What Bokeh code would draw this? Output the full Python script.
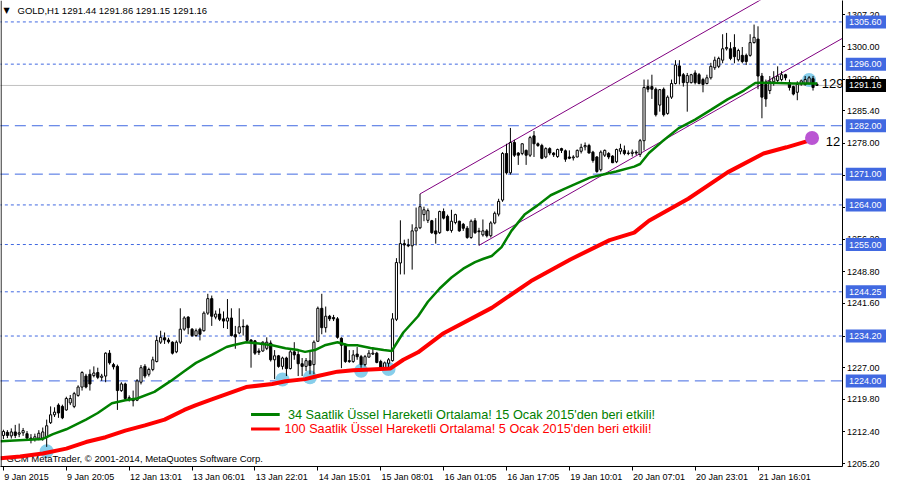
from bokeh.plotting import figure
from bokeh.layouts import row
from bokeh.models import (Range1d, LinearAxis, FixedTicker, CustomJSTickFormatter,
                          Label, Span, ColumnDataSource)
from bokeh.core.properties import value
from bokeh.embed import file_html
from bokeh.resources import INLINE

# ---------------- data (GOLD, H1) ----------------
opens = [
    1211.6, 1212.3, 1211.5, 1212.4, 1211.9, 1212.2, 1212.0, 1211.0, 1210.7, 1211.0,
    1211.0, 1211.2, 1214.5, 1216.3, 1218.5, 1218.2, 1217.4, 1219.0, 1218.2, 1220.7,
    1222.6, 1225.1, 1225.5, 1225.2, 1225.9, 1224.8, 1225.1, 1230.3, 1227.7, 1227.3,
    1221.8, 1223.3, 1220.0, 1220.0, 1219.6, 1223.7, 1227.3, 1225.5, 1226.6, 1228.4,
    1232.8, 1233.8, 1233.3, 1232.8, 1230.6, 1232.8, 1235.75, 1238.5, 1235.75, 1234.3,
    1235.75, 1235.4, 1239.4, 1242.7, 1238.5, 1239.2, 1238.1, 1237.6, 1238.3, 1234.5,
    1234.9, 1236.4, 1236.5, 1233.3, 1233.1, 1230.8, 1230.8, 1231.4, 1232.6, 1228.8,
    1229.7, 1227.3, 1229.2, 1226.8, 1230.6, 1230.0, 1227.9, 1227.3, 1228.6, 1227.7,
    1233.0, 1240.5, 1236.1, 1238.7, 1238.4, 1238.1, 1233.7, 1232.1, 1228.6, 1228.4,
    1230.1, 1229.5, 1227.7, 1229.4, 1230.1, 1230.3, 1228.4, 1227.0, 1228.0, 1228.6,
    1238.0, 1250.8, 1255.2, 1254.9, 1254.7, 1258.1, 1258.8, 1261.8, 1260.5, 1260.4,
    1258.1, 1257.7, 1262.5, 1261.4, 1258.2, 1260.0, 1260.3, 1259.6, 1258.7, 1256.6,
    1260.4, 1258.1, 1257.2, 1258.1, 1257.0, 1259.9, 1261.9, 1265.1, 1275.7, 1271.3,
    1278.2, 1275.8, 1275.7, 1276.4, 1275.3, 1279.7, 1277.9, 1277.5, 1274.9, 1276.8,
    1275.8, 1275.0, 1276.8, 1276.3, 1274.9, 1274.7, 1274.9, 1276.2, 1277.2, 1277.5,
    1276.0, 1274.9, 1272.0, 1275.3, 1275.7, 1275.1, 1273.8, 1276.2, 1276.4, 1275.8,
    1275.7, 1276.0, 1275.5, 1278.6, 1290.9, 1290.9, 1290.3, 1286.7, 1290.3, 1284.8,
    1288.5, 1291.6, 1295.6, 1293.6, 1291.8, 1291.8, 1294.0, 1293.6, 1292.5, 1291.6,
    1292.9, 1295.2, 1295.5, 1296.9, 1299.5, 1299.5, 1299.8, 1297.0, 1298.0, 1298.0,
    1298.0, 1300.9, 1301.7, 1293.3, 1291.4, 1290.0, 1292.0, 1292.3, 1292.5, 1293.6,
    1291.8, 1290.9, 1289.6, 1291.5, 1291.4, 1291.6, 1292.7, 1291.44]
highs = [
    1212.9, 1212.8, 1213.2, 1214.0, 1214.3, 1213.3, 1212.6, 1211.9, 1212.0, 1212.8,
    1213.4, 1215.2, 1218.2, 1218.0, 1218.9, 1218.6, 1220.4, 1220.8, 1221.5, 1223.0,
    1226.2, 1225.6, 1226.6, 1227.3, 1227.0, 1225.6, 1230.5, 1231.0, 1228.1, 1227.7,
    1223.7, 1223.6, 1220.7, 1221.8, 1224.4, 1227.6, 1227.8, 1227.0, 1229.5, 1234.3,
    1235.4, 1235.0, 1233.8, 1233.0, 1233.2, 1240.5, 1238.7, 1238.7, 1236.0, 1235.9,
    1236.1, 1239.8, 1243.8, 1243.4, 1240.0, 1240.5, 1239.8, 1242.6, 1240.5, 1236.5,
    1240.5, 1238.0, 1236.8, 1233.5, 1233.3, 1231.4, 1233.0, 1233.9, 1233.2, 1231.0,
    1229.9, 1229.5, 1229.5, 1231.0, 1232.8, 1231.0, 1229.2, 1229.2, 1230.6, 1233.2,
    1240.9, 1243.8, 1240.9, 1239.0, 1239.0, 1238.5, 1233.9, 1232.5, 1231.0, 1231.0,
    1231.7, 1229.9, 1229.9, 1231.0, 1231.7, 1230.6, 1228.8, 1228.4, 1229.2, 1239.4,
    1251.9, 1260.5, 1256.1, 1256.3, 1259.6, 1263.4, 1266.5, 1263.6, 1263.2, 1260.6,
    1261.0, 1262.7, 1263.2, 1261.8, 1262.9, 1262.0, 1260.4, 1259.9, 1259.2, 1260.7,
    1261.0, 1258.8, 1260.7, 1258.5, 1260.3, 1262.5, 1265.4, 1276.0, 1277.9, 1281.5,
    1278.8, 1276.0, 1278.0, 1276.6, 1279.7, 1280.8, 1278.2, 1277.9, 1277.1, 1277.1,
    1276.0, 1276.8, 1277.0, 1276.6, 1276.4, 1275.3, 1276.6, 1277.9, 1278.2, 1277.9,
    1276.3, 1275.1, 1276.4, 1276.6, 1276.0, 1275.3, 1276.8, 1277.9, 1277.5, 1276.4,
    1276.6, 1276.4, 1279.0, 1292.5, 1292.5, 1293.6, 1290.7, 1290.3, 1290.7, 1288.9,
    1292.5, 1296.9, 1296.9, 1294.0, 1294.0, 1293.8, 1294.6, 1294.0, 1292.9, 1293.6,
    1296.3, 1297.7, 1297.7, 1302.8, 1303.1, 1301.0, 1302.8, 1299.5, 1299.9, 1298.4,
    1302.8, 1305.0, 1304.6, 1294.0, 1292.5, 1293.3, 1294.4, 1295.5, 1294.4, 1293.8,
    1292.5, 1291.1, 1292.1, 1292.5, 1293.3, 1293.3, 1293.3, 1291.86]
lows = [
    1210.8, 1211.0, 1210.9, 1211.0, 1211.2, 1211.5, 1210.4, 1209.8, 1210.2, 1210.5,
    1210.4, 1209.0, 1214.2, 1215.8, 1215.6, 1215.3, 1217.2, 1218.5, 1217.8, 1220.4,
    1221.8, 1222.3, 1221.8, 1224.8, 1224.4, 1224.0, 1223.7, 1227.7, 1226.6, 1217.4,
    1221.5, 1219.8, 1219.3, 1218.2, 1219.4, 1223.2, 1224.6, 1225.0, 1226.2, 1228.2,
    1232.4, 1232.4, 1232.5, 1230.0, 1230.3, 1232.4, 1235.4, 1234.6, 1234.0, 1234.0,
    1233.2, 1235.2, 1239.0, 1236.5, 1238.0, 1237.6, 1236.0, 1235.8, 1234.1, 1231.3,
    1234.6, 1234.3, 1232.8, 1227.0, 1229.9, 1229.9, 1230.6, 1231.0, 1228.4, 1224.4,
    1227.0, 1226.6, 1225.1, 1226.6, 1228.8, 1225.1, 1225.1, 1226.2, 1225.5, 1225.5,
    1232.9, 1234.6, 1235.0, 1237.6, 1237.6, 1233.6, 1226.9, 1228.1, 1228.1, 1228.1,
    1228.8, 1227.0, 1227.3, 1229.3, 1229.9, 1228.0, 1226.6, 1226.6, 1227.0, 1228.4,
    1237.6, 1248.2, 1248.2, 1254.4, 1249.3, 1254.8, 1258.5, 1260.3, 1259.9, 1257.4,
    1255.2, 1257.4, 1260.7, 1258.0, 1257.7, 1259.6, 1257.9, 1258.1, 1256.3, 1256.3,
    1257.4, 1254.8, 1256.8, 1256.6, 1256.6, 1259.6, 1261.4, 1264.7, 1270.9, 1270.9,
    1274.9, 1273.1, 1275.3, 1273.1, 1274.9, 1274.9, 1277.2, 1274.4, 1274.6, 1275.3,
    1274.9, 1274.7, 1275.8, 1273.8, 1274.4, 1274.1, 1274.8, 1275.7, 1276.4, 1275.7,
    1273.6, 1271.3, 1271.6, 1274.9, 1274.4, 1273.5, 1273.5, 1275.5, 1275.3, 1275.3,
    1275.0, 1275.3, 1274.9, 1276.4, 1289.6, 1288.1, 1284.1, 1285.2, 1284.1, 1284.5,
    1288.1, 1291.4, 1291.4, 1290.9, 1285.2, 1291.6, 1291.4, 1291.4, 1289.6, 1291.4,
    1292.5, 1294.7, 1295.1, 1296.2, 1299.1, 1296.9, 1296.2, 1296.6, 1296.2, 1295.8,
    1297.7, 1300.7, 1290.3, 1283.7, 1286.3, 1289.2, 1291.1, 1291.8, 1292.1, 1292.3,
    1290.0, 1288.9, 1287.8, 1291.1, 1291.1, 1291.4, 1290.0, 1291.15]
closes = [
    1212.5, 1211.6, 1212.4, 1211.6, 1212.2, 1212.7, 1211.0, 1210.6, 1211.3, 1212.1,
    1212.4, 1213.8, 1216.3, 1216.9, 1216.7, 1215.6, 1220.0, 1220.0, 1221.1, 1222.6,
    1225.9, 1222.6, 1223.3, 1225.8, 1224.8, 1225.1, 1230.3, 1228.1, 1227.2, 1221.8,
    1223.3, 1220.0, 1220.2, 1219.5, 1224.0, 1227.0, 1225.1, 1226.6, 1228.8, 1233.2,
    1233.9, 1233.3, 1232.9, 1230.3, 1232.8, 1235.75, 1238.3, 1236.1, 1234.3, 1235.4,
    1234.6, 1239.4, 1242.7, 1238.7, 1239.2, 1238.0, 1237.6, 1238.3, 1234.3, 1234.0,
    1236.3, 1236.3, 1233.2, 1232.8, 1230.3, 1230.5, 1232.8, 1232.8, 1228.8, 1229.7,
    1227.3, 1229.2, 1226.8, 1230.6, 1229.9, 1227.9, 1227.3, 1228.6, 1227.5, 1232.8,
    1240.5, 1236.1, 1238.7, 1238.1, 1238.1, 1233.9, 1232.1, 1228.4, 1228.4, 1229.9,
    1229.5, 1227.7, 1229.5, 1230.3, 1230.3, 1228.2, 1227.0, 1228.1, 1228.8, 1238.1,
    1250.9, 1255.2, 1254.9, 1254.7, 1258.1, 1258.8, 1263.6, 1262.9, 1262.7, 1257.7,
    1257.4, 1262.5, 1261.0, 1258.2, 1260.3, 1261.8, 1258.1, 1258.7, 1256.6, 1260.3,
    1257.7, 1257.9, 1258.1, 1257.0, 1259.9, 1262.1, 1264.8, 1275.7, 1271.3, 1278.2,
    1275.3, 1275.3, 1277.9, 1275.3, 1279.3, 1277.9, 1277.5, 1274.6, 1276.8, 1275.8,
    1275.4, 1276.6, 1276.4, 1274.4, 1274.6, 1274.9, 1276.4, 1277.1, 1277.5, 1275.8,
    1274.1, 1271.6, 1276.0, 1276.4, 1274.9, 1273.6, 1276.6, 1276.8, 1275.7, 1275.7,
    1276.0, 1275.8, 1278.6, 1290.7, 1290.3, 1290.3, 1284.5, 1290.2, 1284.5, 1288.5,
    1291.6, 1295.8, 1293.3, 1291.8, 1293.4, 1293.6, 1291.8, 1291.6, 1291.4, 1292.9,
    1295.5, 1296.9, 1297.3, 1299.5, 1299.8, 1297.3, 1297.7, 1299.1, 1296.6, 1296.6,
    1300.9, 1302.1, 1293.3, 1288.5, 1288.1, 1292.1, 1292.9, 1293.3, 1293.6, 1292.9,
    1290.7, 1289.2, 1291.4, 1292.2, 1292.5, 1292.9, 1290.7, 1291.16]

# EMA 34 (green) and EMA 100 (red), read at bar positions
ema34_idx = [-0.75, 10, 12.6, 16, 21, 24, 27.6, 31, 34, 38.4, 42.6, 46, 49, 53, 56.75,
             58.4, 61.75, 65, 68.4, 71.75, 75, 76.75, 79.25, 81.75, 85, 87.6, 90, 93.4,
             96.75, 98.8, 101.75, 105.5, 108, 111, 114, 117, 120, 122, 124.25, 126.75,
             129.25, 132.6, 135.9, 139.25, 142.6, 145.9, 149.25, 152.6, 155.9, 160.5, 162,
             164.25, 167.6, 171.75, 176, 180, 184.25, 188.4, 191.3, 192.6, 196.75, 200.9, 207]
ema34_val = [1210.3, 1210.8, 1211.9, 1213.0, 1215.2, 1216.7, 1218.9, 1219.6, 1220.0, 1221.5,
             1224.0, 1226.2, 1228.1, 1229.9, 1231.7, 1232.1, 1232.8, 1232.5, 1232.1, 1231.4,
             1231.0, 1230.6, 1231.0, 1232.1, 1232.8, 1232.1, 1232.1, 1231.5, 1231.0, 1230.8,
             1235.0, 1238.7, 1242.0, 1245.0, 1247.5, 1249.5, 1251.0, 1251.7, 1252.4, 1254.4,
             1258.1, 1261.8, 1263.9, 1266.2, 1267.6, 1268.9, 1270.2, 1270.9, 1271.6, 1272.7,
             1273.3, 1275.8, 1278.4, 1281.4, 1283.4, 1285.6, 1288.0, 1290.0, 1291.7, 1291.8,
             1291.7, 1291.6, 1291.6]
ema100_idx = [-0.75, 4.25, 10, 16, 21, 26, 31, 36, 41, 46, 49, 53, 61.75, 68.4, 71.75,
              76.75, 80, 85, 89, 93.4, 98.4, 101.75, 105.5, 111.75, 124.25, 134.25, 144.25,
              154.25, 160.5, 164.25, 174.25, 184.25, 193.4, 199.25, 206.5]
ema100_val = [1206.4, 1206.8, 1207.5, 1208.6, 1210.1, 1211.2, 1212.7, 1213.9, 1215.2, 1217.4,
              1218.5, 1219.8, 1222.6, 1223.3, 1223.9, 1224.4, 1225.1, 1226.1, 1226.4, 1226.6,
              1226.8, 1228.8, 1230.5, 1234.7, 1240.6, 1246.7, 1251.6, 1256.0, 1257.7, 1260.4,
              1265.4, 1271.4, 1275.7, 1277.1, 1279.0]

# horizontal levels
hline_vals = [1305.60, 1296.00, 1282.00, 1271.00, 1264.00, 1255.00, 1244.25, 1234.20, 1224.00]
hline_kind = ["dot", "dot", "dash", "dash", "dot", "dot", "dot", "dot", "dash"]
current_price = 1291.16

# price scale ticks
ytick_vals = [1307.2, 1300.0, 1292.6, 1285.4, 1278.0, 1270.8, 1263.4, 1256.2, 1248.8,
              1241.6, 1234.2, 1227.0, 1219.8, 1212.4, 1205.2]
ytick_hidden = [1270.8, 1263.4, 1234.2]

# time scale
xtick_pos = [0, 16, 32, 48, 64, 80, 96, 112, 128, 144, 160, 176, 192]
xtick_labels = ["9 Jan 2015", "9 Jan 20:05", "12 Jan 13:01", "13 Jan 06:01", "13 Jan 22:01",
                "14 Jan 15:01", "15 Jan 08:01", "16 Jan 01:05", "16 Jan 17:05", "19 Jan 10:01",
                "20 Jan 07:01", "20 Jan 23:01", "21 Jan 16:01"]

# trend channel
chan_start_idx = [106, 121]
chan_start_price = [1266.5, 1254.8]
chan_slope = 0.509

# markers
touch_idx = [11, 71, 78, 91, 98, 205]
touch_price = [1208.0, 1224.3, 1224.8, 1226.3, 1226.7, 1292.4]
purple_idx = [205.75]
purple_price = [1279.2]

# end-of-line value texts (cut by the price scale)
end_text_idx = [208.25, 209.25]
end_text_price = [1291.5, 1278.4]
end_text = ["129", "12"]

legend_texts = ["34 Saatlik Üssel Hareketli Ortalama!  15 Ocak 2015'den beri etkili!",
                "100 Saatlik Üssel Hareketli Ortalama!  5 Ocak 2015'den beri etkili!"]

# ---------------- layout ----------------
FRAME_W, FRAME_H = 842, 466
STRIP_W = 41
X0, X1 = -0.75, 213.5
Y0, Y1 = 1204.54, 1310.47
PPX = FRAME_W / (X1 - X0)
PPU = FRAME_H / (Y1 - Y0)
FONT = "Liberation Sans"
SMALL = "9px"
BLUE = "#4169E1"
GREEN = "#008000"
RED = "#FF0000"
# advance widths (em) of the glyphs used in the time labels
CHAR_EM = {" ": 0.278, ":": 0.278, "J": 0.5, "a": 0.556, "n": 0.556}

p = figure(frame_width=FRAME_W, frame_height=FRAME_H, output_backend="svg",
           toolbar_location=None, x_range=Range1d(X0, X1), y_range=Range1d(Y0, Y1),
           x_axis_location=None, y_axis_location=None,
           min_border_left=0, min_border_top=0, min_border_right=0, min_border_bottom=0,
           background_fill_color="white", border_fill_color="white",
           outline_line_color=None)
p.grid.visible = False

# right price axis: line + ticks (labels in the strip beside it)
yaxis = LinearAxis(
    ticker=FixedTicker(ticks=ytick_vals, minor_ticks=[]),
    formatter=CustomJSTickFormatter(code="return '';"),
    axis_line_color="black", major_tick_out=3, major_tick_in=0,
    minor_tick_out=0, minor_tick_in=0, major_label_standoff=0,
    major_label_text_font_size="1px")
p.add_layout(yaxis, "right")

# bottom time axis: line + ticks
xaxis = LinearAxis(
    ticker=FixedTicker(ticks=xtick_pos, minor_ticks=[]),
    formatter=CustomJSTickFormatter(code="return '';"),
    axis_line_color="black", major_tick_out=4, major_tick_in=0,
    minor_tick_out=0, minor_tick_in=0, major_label_standoff=0,
    major_label_text_font_size="1px")
p.add_layout(xaxis, "below")

# second bottom axis carrying the left-aligned time labels
def label_px(s):
    return sum(CHAR_EM.get(ch, 0.556) for ch in s) * 9.0
lab_ticks = [pos + 0.5 * label_px(s) / PPX + 0.2 for pos, s in zip(xtick_pos, xtick_labels)]
xaxis2 = LinearAxis(
    ticker=FixedTicker(ticks=lab_ticks, minor_ticks=[]),
    formatter=CustomJSTickFormatter(args=dict(t=lab_ticks, labs=xtick_labels), code="""
        for (let i = 0; i < t.length; i++) { if (Math.abs(tick - t[i]) < 1e-6) return labs[i]; }
        return '';"""),
    axis_line_color=None, major_tick_line_color=None, major_tick_out=0, major_tick_in=0,
    minor_tick_out=0, minor_tick_in=0, major_label_standoff=1,
    major_label_text_font=FONT, major_label_text_font_size=SMALL,
    major_label_text_color="black")
p.add_layout(xaxis2, "below")

p.add_layout(Span(location=X0 + 0.15, dimension="height", line_color="black", line_width=1))

# horizontal levels
for v, k in zip(hline_vals, hline_kind):
    p.segment(x0=[X0 - 5], y0=[v], x1=[X1 + 5], y1=[v], line_color=BLUE, line_width=1,
              line_dash="3 3" if k == "dot" else "11 6")
p.segment(x0=[X0 - 5], y0=[current_price], x1=[X1 + 5], y1=[current_price],
          line_color="#C0C0C0", line_width=1)

# channel
p.segment(x0=chan_start_idx, y0=chan_start_price,
          x1=[230] * len(chan_start_idx),
          y1=[y + chan_slope * (230 - x) for x, y in zip(chan_start_idx, chan_start_price)],
          line_color="#800080", line_width=1)

# touch markers (behind candles)
p.scatter(x=touch_idx, y=touch_price, size=14, fill_color="#87CEEB", line_color=None)

# copyright
p.text(x=[X0 + 6 / PPX], y=[Y0 + 8 / PPU],
       text=["GCM MetaTrader, © 2001-2014, MetaQuotes Software Corp."],
       text_font=value(FONT), text_font_size=value("9.5px"), text_color="black",
       text_baseline="middle", text_align="left")

# candles
idx = list(range(len(opens)))
src = ColumnDataSource(dict(
    x=idx, o=opens, h=highs, l=lows, c=closes,
    top=[max(o, c) for o, c in zip(opens, closes)],
    bottom=[min(o, c) for o, c in zip(opens, closes)],
    fill=["white" if c >= o else "black" for o, c in zip(opens, closes)]))
p.segment(x0="x", y0="h", x1="x", y1="l", source=src, line_color="black", line_width=1)
p.vbar(x="x", width=0.55, top="top", bottom="bottom", fill_color="fill",
       line_color="black", line_width=1, source=src)

# moving averages
p.line(ema100_idx, ema100_val, line_color=RED, line_width=4)
p.line(ema34_idx, ema34_val, line_color=GREEN, line_width=2.5)
p.scatter(x=purple_idx, y=purple_price, size=14, fill_color="#BA55D3", line_color=None)

p.text(x=end_text_idx, y=end_text_price, text=end_text, text_font=value(FONT),
       text_font_size=value("13px"), text_color="black", text_baseline="middle",
       text_align="left")

# legend-like notes
p.segment(x0=[63, 63], y0=[1216.34, 1213.05], x1=[70.3, 70.3], y1=[1216.34, 1213.05],
          line_color=[GREEN, RED], line_width=3)
p.text(x=[72.4, 71.5], y=[1216.34, 1213.05], text=legend_texts,
       text_color=[GREEN, RED], text_font=value(FONT), text_font_size=value("12.7px"),
       text_baseline="middle", text_align="left")

# title
p.add_layout(Label(x=X0 + 3 / PPX, y=Y1 - 10 / PPU, text="▼", text_font="DejaVu Sans",
                   text_font_size="8px", text_color="black", text_baseline="middle"))
p.add_layout(Label(x=X0 + 17 / PPX, y=Y1 - 10 / PPU,
                   text=f"GOLD,H1  {opens[-1]:.2f} {highs[-1]:.2f} {lows[-1]:.2f} {closes[-1]:.2f}",
                   text_font=FONT, text_font_size="9.5px", text_color="black",
                   text_baseline="middle"))

# ---------------- price strip (labels + level tags) ----------------
PAD = 12
p2 = figure(frame_width=STRIP_W, frame_height=FRAME_H + PAD, output_backend="svg",
            toolbar_location=None, x_range=Range1d(0, STRIP_W),
            y_range=Range1d(Y0 - PAD / PPU, Y1),
            x_axis_location=None, y_axis_location=None,
            min_border_left=0, min_border_top=0, min_border_right=0, min_border_bottom=0,
            background_fill_color="white", border_fill_color="white",
            outline_line_color=None)
p2.grid.visible = False

shown = [v for v in ytick_vals if all(abs(v - h) > 0.01 for h in ytick_hidden)]
p2.text(x=[1.5] * len(shown), y=shown, text=[f"{v:.2f}" for v in shown],
        text_font=value(FONT), text_font_size=value(SMALL), text_color="black",
        text_baseline="middle", text_align="left")

tag_vals = hline_vals + [current_price]
tag_cols = [BLUE] * len(hline_vals) + ["black"]
half = 6.5 / PPU
p2.quad(left=[0] * len(tag_vals), right=[STRIP_W] * len(tag_vals),
        bottom=[v - half for v in tag_vals], top=[v + half for v in tag_vals],
        fill_color=tag_cols, line_color=None)
p2.text(x=[3.5] * len(tag_vals), y=tag_vals, text=[f"{v:.2f}" for v in tag_vals],
        text_font=value(FONT), text_font_size=value(SMALL), text_color="white",
        text_baseline="middle", text_align="left")

layout = row(p, p2)
open("out.html", "w").write(file_html(layout, INLINE))
